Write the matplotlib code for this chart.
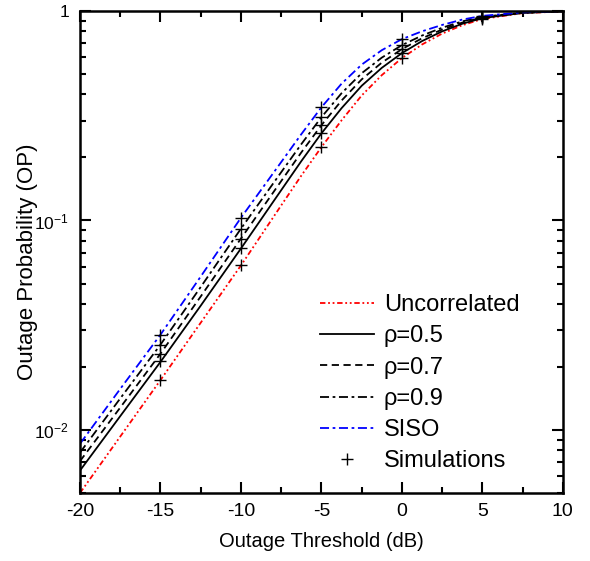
import matplotlib
matplotlib.use("Agg")
import matplotlib.pyplot as plt
from matplotlib.ticker import FixedLocator, FixedFormatter, LogLocator, NullFormatter, MultipleLocator

plt.rcParams['font.family'] = ['Liberation Sans', 'DejaVu Sans']
plt.rcParams['mathtext.fontset'] = 'custom'
plt.rcParams['mathtext.rm'] = 'Liberation Sans'
plt.rcParams['mathtext.it'] = 'Liberation Sans:italic'
plt.rcParams['axes.unicode_minus'] = False

# threshold (dB)
x = [-20, -17.5, -15, -12.5, -10, -7.5, -6.25, -5, -3.75, -2.5, -1.25, 0, 1.25, 2.5, 3.75, 5, 7.5, 10]

uncorr = [0.0050, 0.0093, 0.0173, 0.0325, 0.061, 0.118, 0.1637, 0.224, 0.3006, 0.395, 0.494, 0.596,
          0.692, 0.780, 0.855, 0.916, 0.977, 0.995]
rho05 = [0.0064, 0.01164, 0.02113, 0.0392, 0.0735, 0.1395, 0.192, 0.2606, 0.3436, 0.4395, 0.5353, 0.6295,
         0.7184, 0.7994, 0.869, 0.9245, 0.9792, 0.9961]
rho07 = [0.0071, 0.01279, 0.02312, 0.04338, 0.082, 0.1542, 0.2113, 0.2851, 0.3736, 0.4715, 0.5669, 0.6577,
         0.7406, 0.8157, 0.8805, 0.9311, 0.9808, 0.9965]
rho09 = [0.0078, 0.01414, 0.02554, 0.04813, 0.0914, 0.170, 0.2314, 0.3112, 0.405, 0.5045, 0.5989, 0.6871,
         0.7634, 0.8321, 0.8922, 0.938, 0.9824, 0.997]
siso = [0.00859, 0.0157, 0.0285, 0.054, 0.103, 0.190, 0.2582, 0.347, 0.4498, 0.5546, 0.650, 0.734,
        0.800, 0.858, 0.910, 0.948, 0.985, 0.998]

# simulation points
sim_x = [-15, -10, -5, 0, 5]
sim_uncorr = [0.0173, 0.061, 0.224, 0.596, 0.916]
sim_rho05 = [0.0213, 0.0735, 0.261, 0.63, 0.924]
sim_rho07 = [0.0231, 0.082, 0.285, 0.658, 0.931]
sim_rho09 = [0.0255, 0.0914, 0.311, 0.687, 0.938]
sim_siso = [0.0285, 0.103, 0.347, 0.734, 0.948]

fig = plt.figure(figsize=(5.9, 5.61), dpi=100)
ax = fig.add_axes([0.1356, 0.1212, 0.8184, 0.8592])

lw = 1.3
ax.plot(x, uncorr, color='red', lw=lw, ls=(0, (3, 1.5, 1, 1.5, 1, 1.5)), label='Uncorrelated')
ax.plot(x, rho05, color='black', lw=lw, ls='-', label='\u03c1=0.5')
ax.plot(x, rho07, color='black', lw=lw, ls=(0, (4, 2.5)), label='\u03c1=0.7')
ax.plot(x, rho09, color='black', lw=lw, ls=(0, (5, 2, 1.5, 2)), label='\u03c1=0.9')
ax.plot(x, siso, color='blue', lw=lw, ls=(0, (5, 2, 1.5, 2)), label='SISO')

first = True
for s in [sim_uncorr, sim_rho05, sim_rho07, sim_rho09, sim_siso]:
    ax.plot(sim_x, s, ls='none', marker='+', ms=9, mew=1.0, color='black',
            label='Simulations' if first else None)
    first = False

ax.set_yscale('log')
ax.set_xlim(-20, 10)
ax.set_ylim(0.005, 1)

ax.xaxis.set_major_locator(MultipleLocator(5))
ax.xaxis.set_minor_locator(MultipleLocator(2.5))
ax.yaxis.set_major_locator(FixedLocator([0.01, 0.1, 1]))
ax.yaxis.set_major_formatter(FixedFormatter(['10$^{-2}$', '10$^{-1}$', '1']))
ax.yaxis.set_minor_locator(LogLocator(base=10, subs=range(2, 10)))
ax.yaxis.set_minor_formatter(NullFormatter())

ax.tick_params(which='both', direction='in', top=True, right=True, width=1.5)
ax.tick_params(which='major', length=8)
ax.tick_params(which='minor', length=4)
ax.tick_params(axis='x', which='major', pad=7, labelsize=14)
ax.tick_params(axis='y', which='major', pad=8, labelsize=12.5)
for sp in ax.spines.values():
    sp.set_linewidth(1.8)

ax.set_xlabel('Outage Threshold (dB)', fontsize=14.5, labelpad=9)
ax.set_ylabel('Outage Probability (OP)', fontsize=16)
ax.yaxis.set_label_coords(-0.088, 0.479)

ax.legend(loc='upper left', frameon=False, fontsize=17, handlelength=2.3, handletextpad=0.4,
          labelspacing=0.39, borderpad=0, borderaxespad=0, bbox_to_anchor=(0.497, 0.4125))

fig.savefig('out.png', dpi=100)
